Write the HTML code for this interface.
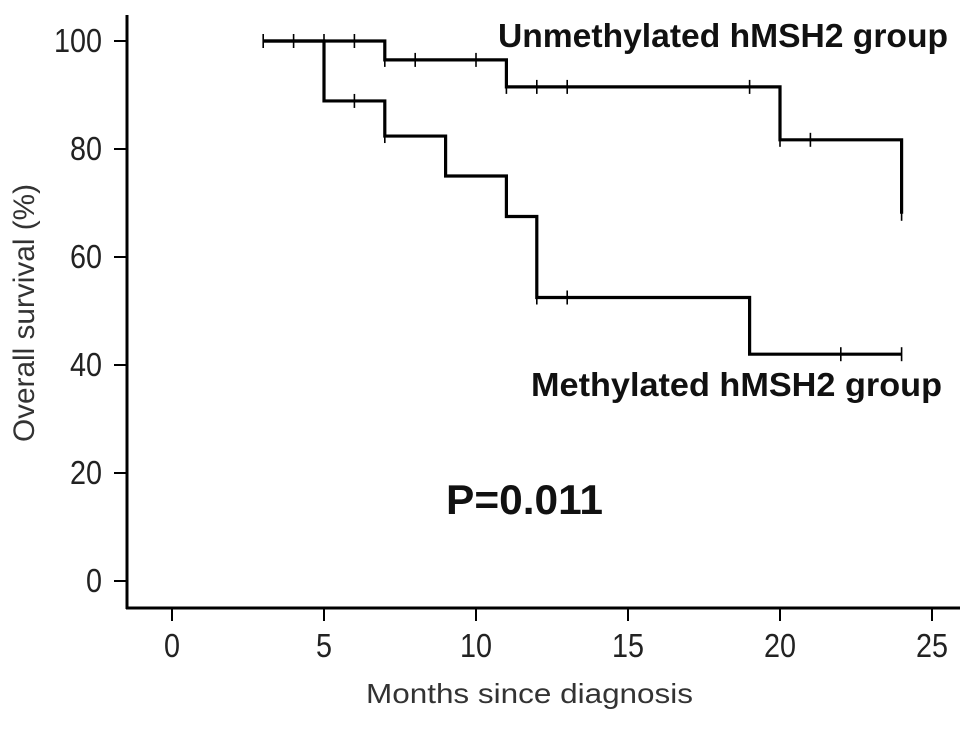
<!DOCTYPE html>
<html><head><meta charset="utf-8"><style>
body{margin:0;background:#fff}
svg text{font-family:"Liberation Sans",Arial,sans-serif}
</style></head><body>
<svg id="c" width="969" height="724" xmlns="http://www.w3.org/2000/svg"></svg>
<script>
const xTicks=[0,5,10,15,20,25];
const yTicks=[0,20,40,60,80,100];
const unmethTimes=[3,7,11,20,24];
const unmethSurv=[100,96.5,91.5,81.7,68];
const unmethEnd=24;
const unmethCensorT=[3,4,5,6,7,8,10,11,12,13,19,20,21,24];
const methTimes=[3,5,7,9,11,12,19];
const methSurv=[100,88.9,82.4,75,67.5,52.5,42];
const methEnd=24;
const methCensorT=[6,7,12,13,22,24];

const svg=document.getElementById('c');
const NS='http://www.w3.org/2000/svg';
const X=t=>172+t*30.4;
const Y=v=>581-v*5.4;
function el(tag,attrs,parent){const e=document.createElementNS(NS,tag);for(const k in attrs)e.setAttribute(k,attrs[k]);(parent||svg).appendChild(e);return e;}
function survAt(times,surv,t){let s=surv[0];for(let i=0;i<times.length;i++){if(times[i]<=t)s=surv[i];}return s;}

let a=el('line',{x1:127,y1:15,x2:127,y2:609,stroke:'#000','stroke-width':3});

a=el('line',{x1:126,y1:608,x2:960,y2:608,stroke:'#000','stroke-width':3});

yTicks.forEach(v=>{
  const l=el('line',{x1:114,y1:Y(v),x2:127,y2:Y(v),stroke:'#000','stroke-width':2});
  
  const s=String(v);
  const t=el('text',{x:102,y:Y(v)+11,'text-anchor':'end','font-size':33,fill:'#222',textLength:s.length*16,lengthAdjust:'spacingAndGlyphs'});
  t.textContent=s;
  
});
xTicks.forEach(v=>{
  const l=el('line',{x1:X(v),y1:608,x2:X(v),y2:621,stroke:'#000','stroke-width':2});
  
  const s=String(v);
  const t=el('text',{x:X(v),y:657,'text-anchor':'middle','font-size':33,fill:'#222',textLength:s.length*16,lengthAdjust:'spacingAndGlyphs'});
  t.textContent=s;
  
});
let t=el('text',{x:366,y:703,'font-size':28,fill:'#333',textLength:327,lengthAdjust:'spacingAndGlyphs'});
t.textContent='Months since diagnosis';

t=el('text',{x:0,y:0,'text-anchor':'middle','font-size':30,fill:'#333',transform:'translate(34,313) rotate(-90)',textLength:258,lengthAdjust:'spacingAndGlyphs'});
t.textContent='Overall survival (%)';


function curve(times,surv,end,cens,name){
  let d='M'+X(times[0])+','+Y(surv[0]);
  for(let i=1;i<times.length;i++){d+=' H'+X(times[i])+' V'+Y(surv[i]);}
  d+=' H'+X(end);
  const p=el('path',{d:d,fill:'none',stroke:'#000','stroke-width':3.2});
  
  cens.forEach(c=>{
    const yy=Y(survAt(times,surv,c));
    const m=el('line',{x1:X(c),y1:yy-7,x2:X(c),y2:yy+7,stroke:'#000','stroke-width':1.6});
    
  });
}
curve(unmethTimes,unmethSurv,unmethEnd,unmethCensorT,'unmethylated');
curve(methTimes,methSurv,methEnd,methCensorT,'methylated');

t=el('text',{x:498,y:47,'font-size':33,'font-weight':'bold',fill:'#111',textLength:450,lengthAdjust:'spacingAndGlyphs'});
t.textContent='Unmethylated hMSH2 group';

t=el('text',{x:531,y:396,'font-size':33,'font-weight':'bold',fill:'#111',textLength:411,lengthAdjust:'spacingAndGlyphs'});
t.textContent='Methylated hMSH2 group';

t=el('text',{x:446,y:514,'font-size':42,'font-weight':'bold',fill:'#111',textLength:157,lengthAdjust:'spacingAndGlyphs'});
t.textContent='P=0.011';

</script>
</body></html>
